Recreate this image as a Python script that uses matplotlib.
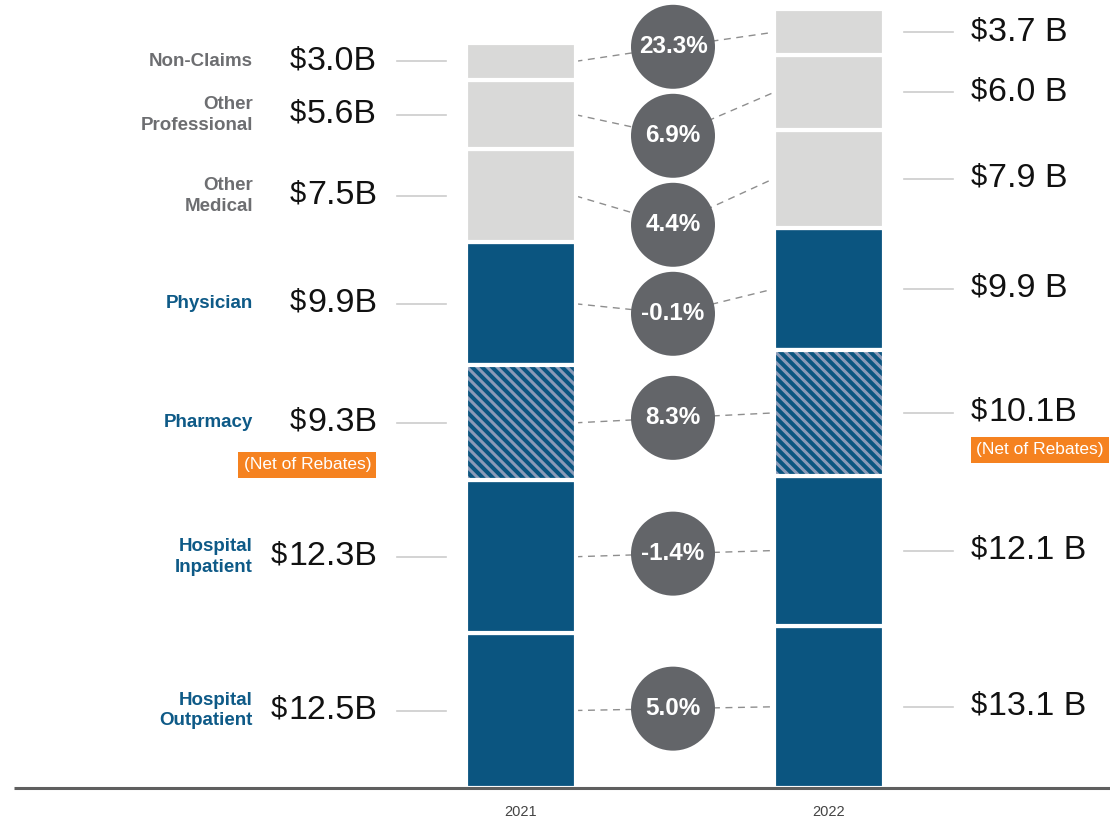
import numpy as np
import matplotlib
matplotlib.use("Agg")
import matplotlib.pyplot as plt

plt.rcParams['font.family'] = ['Liberation Sans', 'DejaVu Sans']

# data, bottom to top
categories = ['Hospital\nOutpatient', 'Hospital\nInpatient', 'Pharmacy', 'Physician',
              'Other\nMedical', 'Other\nProfessional', 'Non-Claims']
spend_2021 = [12.5, 12.3, 9.3, 9.9, 7.5, 5.6, 3.0]
spend_2022 = [13.1, 12.1, 10.1, 9.9, 7.9, 6.0, 3.7]
labels_2021 = ['12.5B', '12.3B', '9.3B', '9.9B', '7.5B', '5.6B', '3.0B']
labels_2022 = ['13.1 B', '12.1 B', '10.1B', '9.9 B', '7.9 B', '6.0 B', '3.7 B']
changes = ['5.0%', '-1.4%', '8.3%', '-0.1%', '4.4%', '6.9%', '23.3%']
years = ['2021', '2022']

BLUE = '#0b5580'
LIGHT = '#d9d9d8'
HATCH_BG = '#8a9ab8'
GRAY_TXT = '#6d6e71'
CIRCLE = '#636569'
ORANGE = '#f58220'
styles = ['blue', 'blue', 'hatch', 'blue', 'light', 'light', 'light']

px_per_b = 12.4
base_px = 788
W, H = 1110, 822

fig = plt.figure(figsize=(W / 100, H / 100), dpi=100)
ax = fig.add_axes([0, 0, 1, 1])
ax.set_xlim(0, W)
ax.set_ylim(-(H - base_px) / px_per_b, base_px / px_per_b)
ax.axis('off')

bar_x = [520.5, 829]
bar_w = 110
stripe_step = 10  # px between diagonal stripes

def stripes(patch, x, b, v):
    # diagonal stripes (top-left to bottom-right) clipped to the bar
    x0 = x - bar_w / 2
    h_px = v * px_per_b
    for off in np.arange(-h_px, bar_w + stripe_step, stripe_step):
        xs = np.array([x0 + off, x0 + off + h_px + 10])
        ys = np.array([b + v, b + v - (h_px + 10) / px_per_b])
        ln, = ax.plot(xs, ys, color=BLUE, lw=2.9, zorder=2.5, solid_capstyle='butt')
        ln.set_clip_path(patch)

def draw_stack(x, vals):
    bottoms = np.concatenate([[0], np.cumsum(vals)[:-1]])
    for v, b, st in zip(vals, bottoms, styles):
        if st == 'hatch':
            bars = ax.bar(x, v, bar_w, bottom=b, color=HATCH_BG, linewidth=0, zorder=2)
            stripes(bars[0], x, b, v)
            ax.bar(x, v, bar_w, bottom=b, fill=False, edgecolor='white',
                   linewidth=3, zorder=3)
        else:
            ax.bar(x, v, bar_w, bottom=b, color=BLUE if st == 'blue' else LIGHT,
                   edgecolor='white', linewidth=3, zorder=2)
    return bottoms + np.array(vals) / 2

mid21 = draw_stack(bar_x[0], spend_2021)
mid22 = draw_stack(bar_x[1], spend_2022)

# baseline and years
ax.plot([14, W], [0, 0], color='#5f5f5f', lw=2.2, zorder=4, solid_capstyle='butt')
for x, yr in zip(bar_x, years):
    ax.text(x, -(812 - base_px) / px_per_b, yr, ha='center', va='center',
            fontsize=10.5, color='#444444')

def dollar(t):
    ax.annotate('$', xy=(0, 0.5), xycoords=t, xytext=(-1, 2), textcoords='offset pixels',
                ha='right', va='center', fontsize=21, color='#111111')

# left labels
for i, (cat, lab, y) in enumerate(zip(categories, labels_2021, mid21)):
    col = GRAY_TXT if styles[i] == 'light' else '#0e5a87'
    ax.text(253, y, cat, ha='right', va='center', multialignment='right',
            fontsize=13.5, fontweight='bold', color=col, linespacing=1.3)
    t = ax.text(377, y, lab, ha='right', va='center', fontsize=24.5, color='#111111')
    dollar(t)
    ax.plot([397, 446], [y, y], color='#cccccc', lw=1.2)

# right labels
for i, (lab, y) in enumerate(zip(labels_2022, mid22)):
    t = ax.text(988, y, lab, ha='left', va='center', fontsize=24.5, color='#111111')
    dollar(t)
    ax.plot([904, 953], [y, y], color='#cccccc', lw=1.2)

# orange notes under pharmacy
ph = categories.index('Pharmacy')
box = dict(boxstyle='square,pad=0.3', fc=ORANGE, ec='none')
ax.text(371, mid21[ph] - 42 / px_per_b, '(Net of Rebates)', ha='right', va='center',
        fontsize=12.5, color='white', bbox=box)
ax.text(976, mid22[ph] - 37 / px_per_b, '(Net of Rebates)', ha='left', va='center',
        fontsize=12.5, color='white', bbox=box)

# change circles, pushed down from the top so they do not overlap
cx = 673
gap = 89 / px_per_b
cy = (mid21 + mid22) / 2
for i in range(len(cy) - 2, -1, -1):
    cy[i] = min(cy[i], cy[i + 1] - gap)

x_left = bar_x[0] + bar_w / 2
x_right = bar_x[1] - bar_w / 2
for y1, y2, yc, txt in zip(mid21, mid22, cy, changes):
    ax.plot([x_left, cx, x_right], [y1, yc, y2], color='#8e8e8e', lw=1,
            dashes=(5, 4), zorder=1)
    ax.scatter([cx], [yc], s=(84 * 0.72) ** 2, color=CIRCLE, edgecolors='none', zorder=5)
    ax.text(cx, yc, txt, ha='center', va='center', fontsize=17.5, fontweight='bold',
            color='white', zorder=6)

fig.savefig('out.png', dpi=100)
